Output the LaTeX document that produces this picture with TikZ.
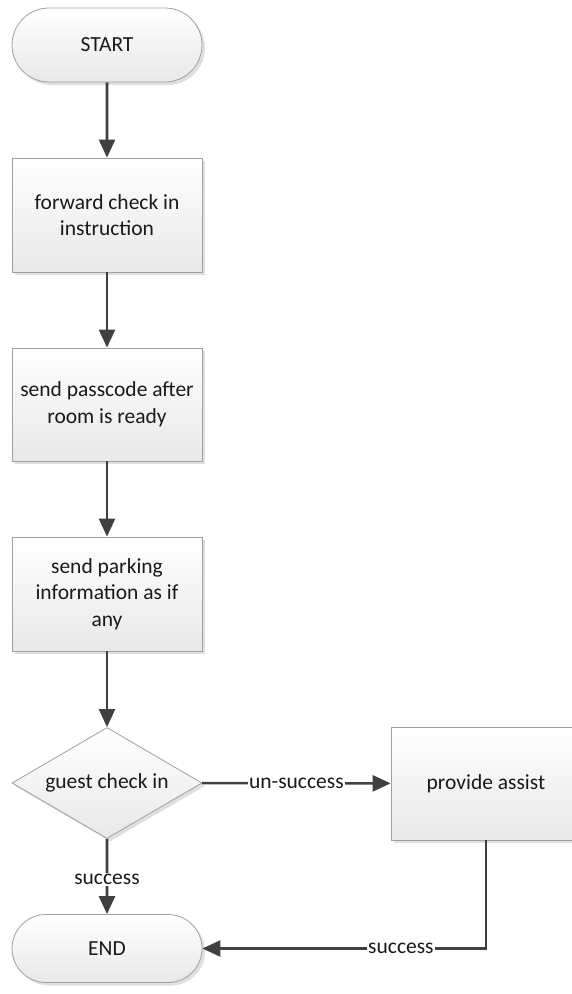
\documentclass[tikz,border=0pt]{standalone}
\usepackage{fontspec}
\setmainfont{Carlito}
\usetikzlibrary{arrows.meta,shapes.geometric,shapes.misc,shadows}

\definecolor{edgegray}{HTML}{A0A0A0}
\definecolor{linegray}{HTML}{404040}
\definecolor{textgray}{HTML}{1A1A1A}

\tikzset{
  stepbox/.style={draw=edgegray,line width=0.8pt,top color=white,bottom color=black!9,
    drop shadow={shadow xshift=3pt,shadow yshift=-3pt,fill=black!25,opacity=0.5},
    minimum width=190pt,minimum height=114pt,inner sep=0pt,align=center,text=textgray},
  terminal/.style={stepbox,rounded rectangle,minimum height=72pt},
  decision/.style={stepbox,diamond,shape aspect=1.7,minimum height=111pt},
  flow/.style={draw=linegray,line width=2.6pt,-{Triangle[length=18pt,width=16pt]}},
  flowlabel/.style={fill=white,inner sep=1pt,text=textgray}
}

\begin{document}
\begin{tikzpicture}[x=1pt,y=-1pt,font=\fontsize{21.5}{26.5}\selectfont]
  \useasboundingbox (0,0) rectangle (572,994);

  % Main column
  \node[terminal,minimum height=74pt] (start) at (107,45) {START};
  \node[stepbox] (fwd) at (107,215) {forward check in\\instruction};
  \node[stepbox,minimum height=113pt] (pass) at (107,404.5) {send passcode after\\room is ready};
  \node[stepbox] (park) at (107,594) {send parking\\information as if\\any};
  \node[decision] (guest) at (107,783) {guest check in};
  \node[terminal,minimum height=68pt] (end) at (107,948.5) {END};

  % Branch
  \node[stepbox,minimum height=113pt] (assist) at (486,783.5) {provide assist};

  % Connectors
  \draw[flow] (start) -- (fwd);
  \draw[flow] (fwd) -- (pass);
  \draw[flow] (pass) -- (park);
  \draw[flow] (park) -- (guest);
  \draw[flow] (guest) -- node[flowlabel] {un-success} (assist);
  \draw[flow] (guest) -- node[flowlabel,yshift=-3pt] {success} (end);
  \draw[flow] (assist) |- node[flowlabel,pos=0.65] {success} (end);
\end{tikzpicture}
\end{document}
